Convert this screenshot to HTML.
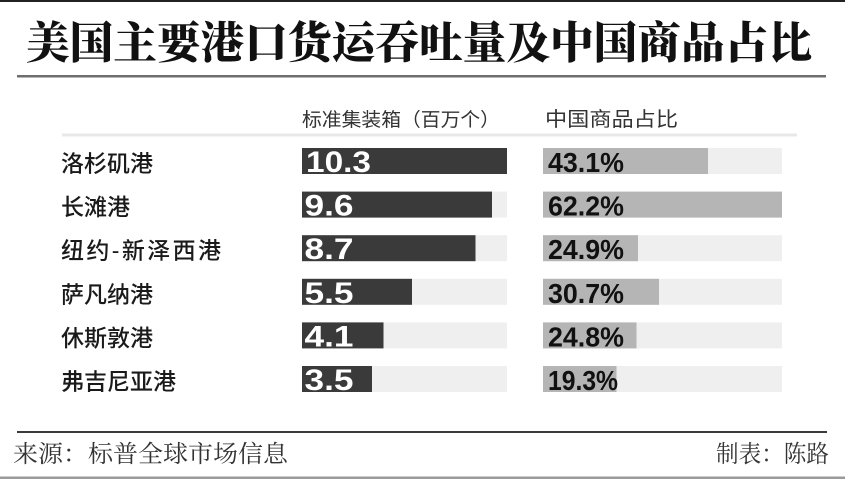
<!DOCTYPE html>
<html><head><meta charset="utf-8"><style>
html,body{margin:0;padding:0;background:#fff;}
svg{display:block;}
.t{font-family:"Liberation Serif","Noto Serif CJK SC",serif;font-weight:900;fill:#111;}
.h{font-family:"Liberation Sans","Noto Sans CJK SC",sans-serif;fill:#333;}
.l{font-family:"Liberation Sans","Noto Sans CJK SC",sans-serif;fill:#1a1a1a;font-size:23px;font-weight:500;}
.n{font-family:"Liberation Sans",Arial,sans-serif;font-weight:bold;fill:#fff;font-size:30px;}
.p{font-family:"Liberation Sans",Arial,sans-serif;font-weight:bold;fill:#111;font-size:28px;}
.f{font-family:"Liberation Serif","Noto Serif CJK SC",serif;fill:#333;font-size:24px;}
</style></head><body>
<svg width="845" height="479" viewBox="0 0 845 479" xmlns="http://www.w3.org/2000/svg">
<rect x="0" y="0" width="845" height="479" fill="#fff"/>
<rect x="0" y="0" width="845" height="2" fill="#222"/>
<text class="t" x="26" y="58" font-size="44" textLength="786" lengthAdjust="spacingAndGlyphs">美国主要港口货运吞吐量及中国商品占比</text>
<rect x="17" y="75" width="809" height="2.5" fill="#6e6e6e"/>
<text class="h" x="302" y="126" font-size="19" textLength="198" lengthAdjust="spacingAndGlyphs">标准集装箱（百万个）</text>
<text class="h" x="545" y="126" font-size="20" textLength="133" lengthAdjust="spacingAndGlyphs">中国商品占比</text>
<rect x="62" y="133.5" width="735" height="3" fill="#e8e8e8"/>

<!-- row 1 -->
<rect x="302" y="148" width="205" height="26" fill="#efefef"/>
<rect x="302" y="148" width="205" height="26" fill="#3a3a3a"/>
<rect x="543" y="148" width="239" height="26" fill="#efefef"/>
<rect x="543" y="148" width="165" height="26" fill="#b5b5b5"/>
<text class="l" x="61" y="171.5">洛杉矶港</text>
<text class="n" x="306" y="172" textLength="65" lengthAdjust="spacingAndGlyphs">10.3</text>
<text class="p" x="548" y="172" textLength="76" lengthAdjust="spacingAndGlyphs">43.1%</text>

<!-- row 2 -->
<rect x="302" y="191.6" width="205" height="26" fill="#efefef"/>
<rect x="302" y="191.6" width="190" height="26" fill="#3a3a3a"/>
<rect x="543" y="191.6" width="239" height="26" fill="#efefef"/>
<rect x="543" y="191.6" width="239" height="26" fill="#b5b5b5"/>
<text class="l" x="61" y="215.1">长滩港</text>
<text class="n" x="304.5" y="215.6" textLength="49" lengthAdjust="spacingAndGlyphs">9.6</text>
<text class="p" x="548" y="215.6" textLength="76" lengthAdjust="spacingAndGlyphs">62.2%</text>

<!-- row 3 -->
<rect x="302" y="235.2" width="205" height="26" fill="#efefef"/>
<rect x="302" y="235.2" width="173.5" height="26" fill="#3a3a3a"/>
<rect x="543" y="235.2" width="239" height="26" fill="#efefef"/>
<rect x="543" y="235.2" width="95" height="26" fill="#b5b5b5"/>
<text class="l" x="61" y="258.7" textLength="160" lengthAdjust="spacing">纽约-新泽西港</text>
<text class="n" x="304.5" y="259.2" textLength="49" lengthAdjust="spacingAndGlyphs">8.7</text>
<text class="p" x="548" y="259.2" textLength="76" lengthAdjust="spacingAndGlyphs">24.9%</text>

<!-- row 4 -->
<rect x="302" y="278.8" width="205" height="26" fill="#efefef"/>
<rect x="302" y="278.8" width="110" height="26" fill="#3a3a3a"/>
<rect x="543" y="278.8" width="239" height="26" fill="#efefef"/>
<rect x="543" y="278.8" width="116" height="26" fill="#b5b5b5"/>
<text class="l" x="61" y="302.3">萨凡纳港</text>
<text class="n" x="304.5" y="302.8" textLength="49" lengthAdjust="spacingAndGlyphs">5.5</text>
<text class="p" x="548" y="302.8" textLength="76" lengthAdjust="spacingAndGlyphs">30.7%</text>

<!-- row 5 -->
<rect x="302" y="322.4" width="205" height="26" fill="#efefef"/>
<rect x="302" y="322.4" width="81.5" height="26" fill="#3a3a3a"/>
<rect x="543" y="322.4" width="239" height="26" fill="#efefef"/>
<rect x="543" y="322.4" width="93.5" height="26" fill="#b5b5b5"/>
<text class="l" x="61" y="345.9">休斯敦港</text>
<text class="n" x="304.5" y="346.4" textLength="49" lengthAdjust="spacingAndGlyphs">4.1</text>
<text class="p" x="548" y="346.4" textLength="76" lengthAdjust="spacingAndGlyphs">24.8%</text>

<!-- row 6 -->
<rect x="302" y="366" width="205" height="26" fill="#efefef"/>
<rect x="302" y="366" width="70" height="26" fill="#3a3a3a"/>
<rect x="543" y="366" width="239" height="26" fill="#efefef"/>
<rect x="543" y="366" width="73.5" height="26" fill="#b5b5b5"/>
<text class="l" x="61" y="389.5">弗吉尼亚港</text>
<text class="n" x="304.5" y="390" textLength="49" lengthAdjust="spacingAndGlyphs">3.5</text>
<text class="p" x="548" y="390" textLength="70" lengthAdjust="spacingAndGlyphs">19.3%</text>

<rect x="17" y="431" width="810" height="2" fill="#3a3a3a"/>
<text class="f" x="13" y="462" textLength="275" lengthAdjust="spacingAndGlyphs">来源：标普全球市场信息</text>
<text class="f" x="716" y="462" textLength="113" lengthAdjust="spacingAndGlyphs">制表：陈路</text>
<rect x="0" y="476.5" width="845" height="2.5" fill="#9a9a9a"/>
</svg>
</body></html>
